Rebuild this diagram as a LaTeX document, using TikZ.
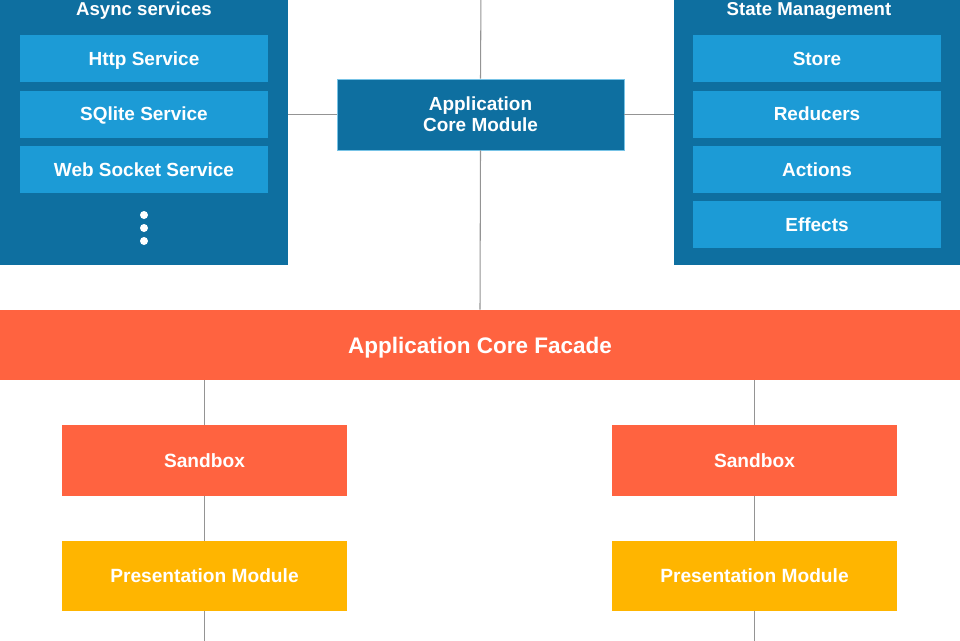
\documentclass[tikz,border=0pt]{standalone}
\usepackage{fontspec}
\setmainfont{Liberation Sans}
\usetikzlibrary{calc,positioning}

\definecolor{darkblue}{RGB}{14,111,160}
\definecolor{lightblue}{RGB}{28,155,214}
\definecolor{facadeorange}{RGB}{255,99,64}
\definecolor{moduleyellow}{RGB}{255,181,0}

\begin{document}
\begin{tikzpicture}[
    x=0.02cm, y=-0.02cm,
    group/.style={rectangle, fill=darkblue, minimum width=5.76cm, minimum height=5.9cm, inner sep=0pt},
    grouptitle/.style={font=\fontsize{10.6}{12}\selectfont\bfseries, text=white, inner sep=0pt, text height=7.6pt, text depth=0pt},
    svcbox/.style={rectangle, fill=lightblue, minimum width=4.96cm, minimum height=0.94cm, inner sep=0pt, text height=7.7pt, text depth=0pt, font=\fontsize{10.8}{12}\selectfont\bfseries, text=white},
    corebox/.style={rectangle, fill=darkblue, draw=lightblue!60, line width=0.4pt, minimum width=5.74cm, minimum height=1.42cm, align=center, font=\fontsize{10.8}{11.9}\selectfont\bfseries, text=white},
    facade/.style={rectangle, fill=facadeorange, minimum width=19.2cm, minimum height=1.4cm, inner sep=0pt, text height=9.2pt, text depth=0pt, font=\fontsize{12.8}{14}\selectfont\bfseries, text=white},
    sandbox/.style={rectangle, fill=facadeorange, minimum width=5.7cm, minimum height=1.42cm, inner sep=0pt, text height=7.8pt, text depth=0pt, font=\fontsize{10.9}{12}\selectfont\bfseries, text=white},
    presbox/.style={rectangle, fill=moduleyellow, minimum width=5.7cm, minimum height=1.4cm, inner sep=0pt, text height=7.8pt, text depth=0pt, font=\fontsize{10.9}{12}\selectfont\bfseries, text=white},
    link/.style={draw=black!42, line width=0.6pt},
]

\useasboundingbox (0,0) rectangle (960,640);

% === ASYNC SERVICES ===
\node[group] (async) at (144,117.5) {};
\node[grouptitle] (async-title) at (144,9) {Async services};
\node[svcbox] (http) at (144,58.5) {Http Service};
\node[svcbox] (sqlite) at (144,114) {SQlite Service};
\node[svcbox] (socket) at (144,169.5) {Web Socket Service};
\foreach \y in {215,228,241}
    \fill[white] (144,\y) circle (0.08cm);

% === STATE MANAGEMENT ===
\node[group] (state) at (818,117.5) {};
\node[grouptitle] (state-title) at (809,9) {State Management};
\node[svcbox] (store) at (817,58.5) {Store};
\node[svcbox] (reducers) at (817,114) {Reducers};
\node[svcbox] (actions) at (817,169.5) {Actions};
\node[svcbox] (effects) at (817,224.5) {Effects};

% === CORE ===
\node[corebox] (core) at (480.5,114.5) {Application\\Core Module};
\node[facade] (facade) at (480,345) {Application Core Facade};

% === SANDBOXES AND MODULES ===
\node[sandbox] (sandbox-left) at (204.5,460.5) {Sandbox};
\node[sandbox] (sandbox-right) at (754.5,460.5) {Sandbox};
\node[presbox] (pres-left) at (204.5,576) {Presentation Module};
\node[presbox] (pres-right) at (754.5,576) {Presentation Module};

\coordinate (top-end) at (481,-10);
\coordinate (left-end) at (204.5,650);
\coordinate (right-end) at (754.5,650);

% === LINKS ===
\draw[link] (core.north) -- (top-end);
\draw[link] (core.west) -- (core.west -| async.east);
\draw[link] (core.east) -- (core.east -| state.west);
\draw[link] (core.south) -- (facade.north);

\draw[link] (sandbox-left.north) -- (sandbox-left.north |- facade.south);
\draw[link] (sandbox-right.north) -- (sandbox-right.north |- facade.south);
\draw[link] (sandbox-left.south) -- (pres-left.north);
\draw[link] (sandbox-right.south) -- (pres-right.north);
\draw[link] (pres-left.south) -- (left-end);
\draw[link] (pres-right.south) -- (right-end);

\end{tikzpicture}
\end{document}
